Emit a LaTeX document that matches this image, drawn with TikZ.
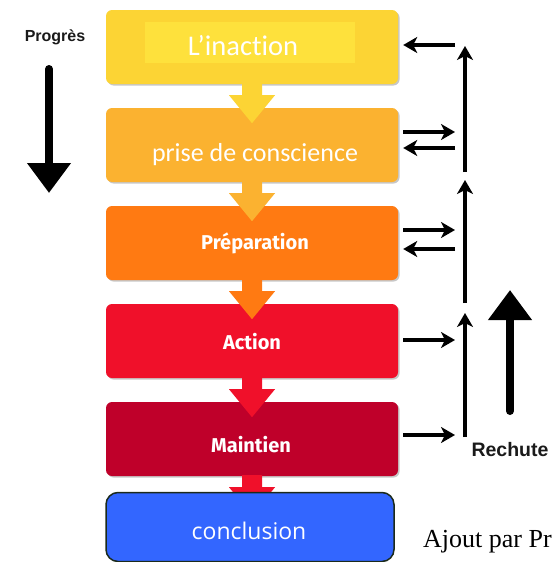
\documentclass[tikz,border=0pt]{standalone}
\usepackage{fontspec}
\usetikzlibrary{arrows.meta,calc,shadows}
\newfontfamily\calib[Ligatures={NoCommon}]{Carlito}
\newfontfamily\firab{Fira Sans}
\newfontfamily\arialb{Liberation Sans}
\newfontfamily\opens{Open Sans}
\newfontfamily\serj{Liberation Serif}
\definecolor{cInact}{HTML}{FCD434}
\definecolor{cInactIn}{HTML}{FEE13C}
\definecolor{cPrise}{HTML}{FBB230}
\definecolor{cPrep}{HTML}{FF7A12}
\definecolor{cAction}{HTML}{F0102A}
\definecolor{cMaint}{HTML}{BF002A}
\definecolor{cConcl}{HTML}{3366FF}
\definecolor{cConclBd}{HTML}{1B2A1B}
\definecolor{cTxt}{HTML}{1A1A1A}
\newcommand\fatdown[2]{%
  \fill[#2] ($(#1.south)+(-10,-1)$) -- ($(#1.south)+(-10,11)$) -- ($(#1.south)+(-23,11)$)
    -- ($(#1.south)+(0,39)$) -- ($(#1.south)+(23,11)$) -- ($(#1.south)+(10,11)$)
    -- ($(#1.south)+(10,-1)$) -- cycle;}
\begin{document}
\begin{tikzpicture}[x=1pt,y=-1pt,
  stage/.style={rounded corners=6pt, minimum width=292pt, minimum height=74pt, inner sep=0pt,
    drop shadow={shadow xshift=1.5pt, shadow yshift=-1.5pt, opacity=0.22, fill=black}},
  lbl/.style={text=white, inner sep=0pt},
  boldlbl/.style={lbl, font=\firab\bfseries\fontsize{20}{20}\selectfont},
  thinar/.style={line width=3.2pt, draw=black, -{Stealth[length=14pt,width=16pt,inset=4pt]}},
  bigar/.style={line width=8pt, draw=black, line cap=round, -{Triangle[length=30pt,width=42pt]}},
  side/.style={font=\arialb\bfseries\fontsize{16}{16}\selectfont, text=cTxt, inner sep=0pt}]
\useasboundingbox (0,0) rectangle (552,562);
\fill[white] (0,0) rectangle (552,562);
% stages
\node[stage, fill=cInact] (b1) at (252,47) {};
\fill[cInactIn] (145,22) rectangle (355,63);
\node[stage, fill=cPrise] (b2) at (252,145) {};
\node[stage, fill=cPrep] (b3) at (252,243) {};
\node[stage, fill=cAction] (b4) at (252,341) {};
\node[stage, fill=cMaint] (b5) at (252,439) {};
% fat arrows between stages
\fatdown{b1}{cInact}
\fatdown{b2}{cPrise}
\fatdown{b3}{cPrep}
\fatdown{b4}{cAction}
\fatdown{b5}{cAction}
% labels
\node[lbl, font=\calib\fontsize{28.5}{28.5}\selectfont] (l1) at (243,46) {L’inaction};
\node[lbl, font=\calib\fontsize{26}{26}\selectfont] (l2) at (255,155) {prise de conscience};
\node[boldlbl] (l3) at (255,243) {Préparation};
\node[boldlbl] (l4) at (252,342) {Action};
\node[boldlbl] (l5) at (251,445) {Maintien};
% conclusion
\node[draw=cConclBd, line width=1.5pt, fill=cConcl, rounded corners=12pt,
  minimum width=288pt, minimum height=69pt, inner sep=0pt] (b6) at (250,527) {};
\node[lbl, font=\opens\fontsize{23}{23}\selectfont] (l6) at (249,531) {conclusion};
% left progress arrow
\node[side] (prog) at (55,37) {Progrès};
\coordinate (pa) at (49,69);
\coordinate (pb) at (49,193);
\draw[bigar] (pa) -- (pb);
% right side
\coordinate (t1) at (455,45);
\coordinate (t2a) at (455,132);
\coordinate (t2b) at (455,148);
\coordinate (t3a) at (455,230);
\coordinate (t3b) at (455,249);
\coordinate (t4) at (455,340);
\coordinate (t5) at (455,435);
\draw[thinar] (t1) -- ($(b1.east |- t1)+(5,0)$);
\draw[thinar] ($(b2.east |- t2a)+(5,0)$) -- (t2a);
\draw[thinar] (t2b) -- ($(b2.east |- t2b)+(5,0)$);
\draw[thinar] ($(b3.east |- t3a)+(5,0)$) -- (t3a);
\draw[thinar] (t3b) -- ($(b3.east |- t3b)+(5,0)$);
\draw[thinar] ($(b4.east |- t4)+(5,0)$) -- (t4);
\draw[thinar] ($(b5.east |- t5)+(5,0)$) -- (t5);
\coordinate (v1s) at (465,172);
\coordinate (v1e) at (465,46);
\coordinate (v2s) at (465,303);
\coordinate (v2e) at (465,180);
\coordinate (v3s) at (465,437);
\coordinate (v3e) at (465,313);
\draw[thinar] (v1s) -- (v1e);
\draw[thinar] (v2s) -- (v2e);
\draw[thinar] (v3s) -- (v3e);
\coordinate (ra) at (510,411);
\coordinate (rb) at (510,290);
\draw[bigar] (ra) -- (rb);
\node[side, font=\arialb\bfseries\fontsize{19.5}{19.5}\selectfont] (rech) at (510,450) {Rechute};
% note
\node[anchor=base west, inner sep=0pt, font=\serj\fontsize{26}{26}\selectfont, text=black] (note) at (423,547) {Ajout par Pr};
\end{tikzpicture}
\end{document}
